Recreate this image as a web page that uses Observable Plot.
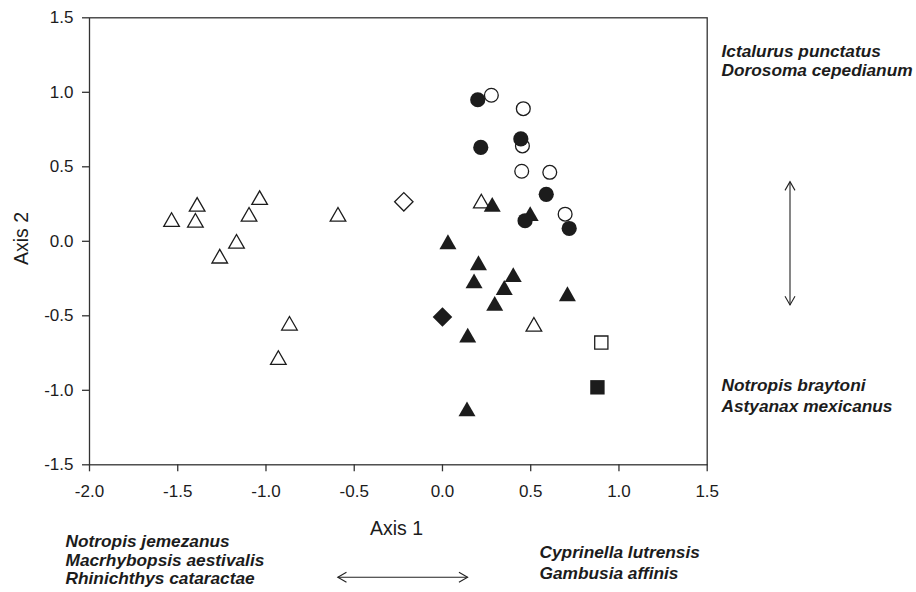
<!DOCTYPE html>
<html>
<head>
<meta charset="utf-8">
<script src="https://cdn.jsdelivr.net/npm/d3@7"></script>
<script src="https://cdn.jsdelivr.net/npm/@observablehq/plot@0.6"></script>
<style>
  html, body { margin: 0; padding: 0; background: #fff; }
  #chart { width: 916px; height: 592px; }
</style>
</head>
<body>
<div id="chart"></div>
<script>
// ---------- data (ordination scores) ----------
const openTriangleX   = [-1.535, -1.40, -1.39, -1.262, -1.167, -1.096, -1.036, -0.867, -0.93, -0.592, 0.22, 0.518];
const openTriangleY   = [ 0.146,  0.141, 0.248, -0.10,   0.0,    0.181,  0.293, -0.55,  -0.78,  0.181, 0.27, -0.557];
const filledTriangleX = [0.031, 0.204, 0.179, 0.401, 0.35, 0.296, 0.708, 0.143, 0.139, 0.282, 0.497];
const filledTriangleY = [-0.003, -0.144, -0.265, -0.224, -0.31, -0.417, -0.352, -0.63, -1.125, 0.248, 0.186];
const openCircleX     = [0.277, 0.458, 0.453, 0.449, 0.608, 0.695];
const openCircleY     = [0.98, 0.89, 0.64, 0.47, 0.463, 0.182];
const filledCircleX   = [0.20, 0.444, 0.217, 0.588, 0.468, 0.718];
const filledCircleY   = [0.95, 0.687, 0.63, 0.315, 0.138, 0.086];
const openDiamondX    = [-0.219];
const openDiamondY    = [0.265];
const filledDiamondX  = [0.0];
const filledDiamondY  = [-0.508];
const openSquareX     = [0.90];
const openSquareY     = [-0.68];
const filledSquareX   = [0.878];
const filledSquareY   = [-0.98];

const xTicks = [-2.0, -1.5, -1.0, -0.5, 0.0, 0.5, 1.0, 1.5];
const yTicks = [-1.5, -1.0, -0.5, 0.0, 0.5, 1.0, 1.5];
const xTitle = "Axis 1";
const yTitle = "Axis 2";
const speciesLabels = [
  "Ictalurus punctatus", "Dorosoma cepedianum",
  "Notropis braytoni", "Astyanax mexicanus",
  "Notropis jemezanus", "Macrhybopsis aestivalis", "Rhinichthys cataractae",
  "Cyprinella lutrensis", "Gambusia affinis"
];

// ---------- layout ----------
const W = 916, H = 592;
const M = {left: 89, right: 916 - 706.7, top: 17.3, bottom: 592 - 464.3};
// label anchor positions in pixels (left edge, vertical centre)
const labelPos = [
  [721, 51.3], [721, 69.5],
  [721, 385], [721, 406.3],
  [65, 541], [65, 559.5], [65, 578],
  [539, 552], [539, 573]
];
const ink = "#1c1c1c";

const pts = (X, Y) => X.map((x, i) => ({x, y: Y[i]}));

// custom symbols, sized by half-extent r
const triangle = {draw(ctx, size) { const r = Math.sqrt(size / Math.PI), h = r * 0.87;
  ctx.moveTo(0, -h); ctx.lineTo(r, h); ctx.lineTo(-r, h); ctx.closePath(); }};
const diamond = {draw(ctx, size) { const r = Math.sqrt(size / Math.PI);
  ctx.moveTo(0, -r); ctx.lineTo(r, 0); ctx.lineTo(0, r); ctx.lineTo(-r, 0); ctx.closePath(); }};
const square = {draw(ctx, size) { const r = Math.sqrt(size / Math.PI);
  ctx.moveTo(-r, -r); ctx.lineTo(r, -r); ctx.lineTo(r, r); ctx.lineTo(-r, r); ctx.closePath(); }};

const openStyle = {fill: "white", stroke: ink, strokeWidth: 1.3};
const fillStyle = {fill: ink, stroke: "none"};

const plot = Plot.plot({
  width: W, height: H,
  marginLeft: M.left, marginRight: M.right, marginTop: M.top, marginBottom: M.bottom,
  style: {fontFamily: "'Liberation Sans', Arial, sans-serif", fontSize: "17px", color: ink, background: "white"},
  x: {domain: [-2, 1.5]},
  y: {domain: [-1.5, 1.5]},
  marks: [
    Plot.frame({stroke: "#333", strokeWidth: 1.3}),
    Plot.axisX({ticks: xTicks, tickSize: 7, tickPadding: 13.5, tickFormat: d => d.toFixed(1), label: null, stroke: "#333", strokeWidth: 1.3, fontSize: 17}),
    Plot.axisY({ticks: yTicks, tickSize: 7, tickPadding: 9, tickFormat: d => d.toFixed(1), label: null, stroke: "#333", strokeWidth: 1.3, fontSize: 17}),
    // open symbols first
    Plot.dot(pts(openTriangleX, openTriangleY), {x: "x", y: "y", symbol: triangle, r: 7.8, ...openStyle}),
    Plot.dot(pts(openCircleX, openCircleY), {x: "x", y: "y", symbol: "circle", r: 6.9, ...openStyle}),
    Plot.dot(pts(openDiamondX, openDiamondY), {x: "x", y: "y", symbol: diamond, r: 9.2, ...openStyle}),
    Plot.dot(pts(openSquareX, openSquareY), {x: "x", y: "y", symbol: square, r: 6.6, ...openStyle}),
    // filled symbols on top
    Plot.dot(pts(filledTriangleX, filledTriangleY), {x: "x", y: "y", symbol: triangle, r: 8.5, ...fillStyle}),
    Plot.dot(pts(filledCircleX, filledCircleY), {x: "x", y: "y", symbol: "circle", r: 7.6, ...fillStyle}),
    Plot.dot(pts(filledDiamondX, filledDiamondY), {x: "x", y: "y", symbol: diamond, r: 9.8, ...fillStyle}),
    Plot.dot(pts(filledSquareX, filledSquareY), {x: "x", y: "y", symbol: square, r: 7.2, ...fillStyle}),
    // axis titles
    Plot.text([xTitle], {frameAnchor: "top-left", dx: 396 - M.left, dy: 528 - M.top, text: d => d,
      textAnchor: "middle", lineAnchor: "middle", fontSize: 19.5, fill: ink}),
    Plot.text([yTitle], {frameAnchor: "top-left", dx: 21 - M.left, dy: 238 - M.top, text: d => d,
      textAnchor: "middle", lineAnchor: "middle", rotate: -90, fontSize: 19.5, fill: ink}),
    // species annotations
    ...speciesLabels.map((s, i) => Plot.text([s], {frameAnchor: "top-left",
      dx: labelPos[i][0] - M.left, dy: labelPos[i][1] - M.top, text: d => d,
      textAnchor: "start", lineAnchor: "middle", fontSize: 17.3, fontWeight: "bold", fontStyle: "italic", fill: ink}))
  ]
});
document.getElementById("chart").appendChild(plot);

// double-headed gradient arrows (layout annotations)
const svg = d3.select(plot);
const arrows = [
  {x1: 337.8, y1: 577.3, x2: 467.6, y2: 577.3},
  {x1: 790, y1: 181.7, x2: 790, y2: 305}
];
const g = svg.append("g").attr("stroke", "#222").attr("stroke-width", 1.1).attr("fill", "none");
arrows.forEach(a => {
  g.append("line").attr("x1", a.x1).attr("y1", a.y1).attr("x2", a.x2).attr("y2", a.y2);
  const ang = Math.atan2(a.y2 - a.y1, a.x2 - a.x1), L = 10, s = Math.PI / 6;
  [[a.x2, a.y2, ang], [a.x1, a.y1, ang + Math.PI]].forEach(([x, y, t]) => {
    const p1 = [x - L * Math.cos(t - s), y - L * Math.sin(t - s)];
    const p2 = [x - L * Math.cos(t + s), y - L * Math.sin(t + s)];
    g.append("path").attr("d", `M${p1[0]},${p1[1]}L${x},${y}L${p2[0]},${p2[1]}`);
  });
});
</script>
</body>
</html>
